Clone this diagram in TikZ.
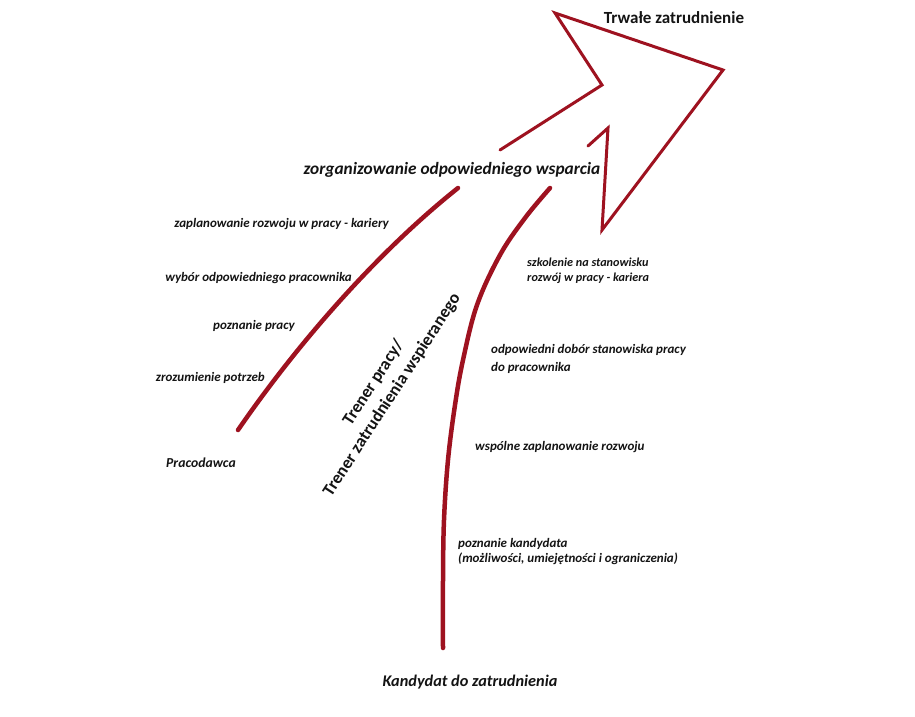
\documentclass[tikz,border=0pt]{standalone}
\usepackage{fontspec}
\setmainfont{Carlito}
\definecolor{arrowred}{RGB}{158,18,32}
\definecolor{txt}{RGB}{20,20,20}
\tikzset{
  curveline/.style={draw=arrowred, line width=4.5pt, line cap=round, line join=round},
  outline/.style={draw=arrowred, line width=3pt, line join=miter, line cap=round},
  lbl/.style={font=\fontsize{13}{15}\selectfont\bfseries\itshape, text=txt, inner sep=0pt, align=left},
  biglbl/.style={font=\fontsize{16.3}{18}\selectfont\bfseries\itshape, text=txt, inner sep=0pt},
  titlelbl/.style={font=\fontsize{17}{19}\selectfont\bfseries, text=txt, inner sep=0pt},
}
\begin{document}
\begin{tikzpicture}[x=1pt,y=-1pt]
\useasboundingbox (0,0) rectangle (915,716);
\fill[white] (0,0) rectangle (915,716);

% left curve (Pracodawca)
\coordinate (L0) at (238,430);
\coordinate (L1) at (458,188);
\draw[curveline] (L0) .. controls (300,340) and (380,250) .. (L1);

% right curve (Kandydat)
\coordinate (R0) at (443,648);
\coordinate (R1) at (550,188);
\draw[curveline] plot[smooth, tension=0.6] coordinates {(R0) (443,580) (444,520) (448,460) (455,405) (463,360) (477,305) (500,255) (525,218) (R1)};

% arrow head outline
\coordinate (S0) at (500,150);
\coordinate (N1) at (602,85);
\coordinate (B1) at (555,13);
\coordinate (T) at (723,70);
\coordinate (B2) at (602,230);
\coordinate (N2) at (608,128);
\coordinate (S1) at (588,146);
\draw[outline] (S0) -- (N1) -- (B1) -- (T) -- (B2) -- (N2) -- (S1);

% texts
\node[titlelbl] (trwale) at (674,18) {Trwałe zatrudnienie};
\node[biglbl, font=\fontsize{17.3}{19}\selectfont\bfseries\itshape] (wsparcie) at (452,170) {zorganizowanie odpowiedniego wsparcia};

\node[lbl, anchor=east] (e1) at (389,224) {zaplanowanie rozwoju w pracy - kariery};
\node[lbl, anchor=east] (e2) at (352,278) {wybór odpowiedniego pracownika};
\node[lbl, anchor=east] (e3) at (295,326) {poznanie pracy};
\node[lbl, anchor=east] (e4) at (265,378) {zrozumienie potrzeb};
\node[biglbl, anchor=west, font=\fontsize{13.7}{16}\selectfont\bfseries\itshape] (prac) at (166,463) {Pracodawca};

\node[font=\fontsize{17.4}{22}\selectfont\bfseries, text=txt, align=center, rotate=57, inner sep=0pt] (trener) at (383,389) {Trener pracy/\\Trener zatrudnienia wspieranego};

\node[lbl, anchor=west, font=\fontsize{12.2}{15}\selectfont\bfseries\itshape] (k1) at (527,271) {szkolenie na stanowisku\\rozwój w pracy - kariera};
\node[lbl, anchor=west, font=\fontsize{13}{18}\selectfont\bfseries\itshape] (k2) at (491,359) {odpowiedni dobór stanowiska pracy\\do pracownika};
\node[lbl, anchor=west] (k3) at (475,447) {wspólne zaplanowanie rozwoju};
\node[lbl, anchor=west] (k4) at (458,552) {poznanie kandydata\\(możliwości, umiejętności i ograniczenia)};
\node[biglbl] (kand) at (470,682) {Kandydat do zatrudnienia};
\end{tikzpicture}
\end{document}
